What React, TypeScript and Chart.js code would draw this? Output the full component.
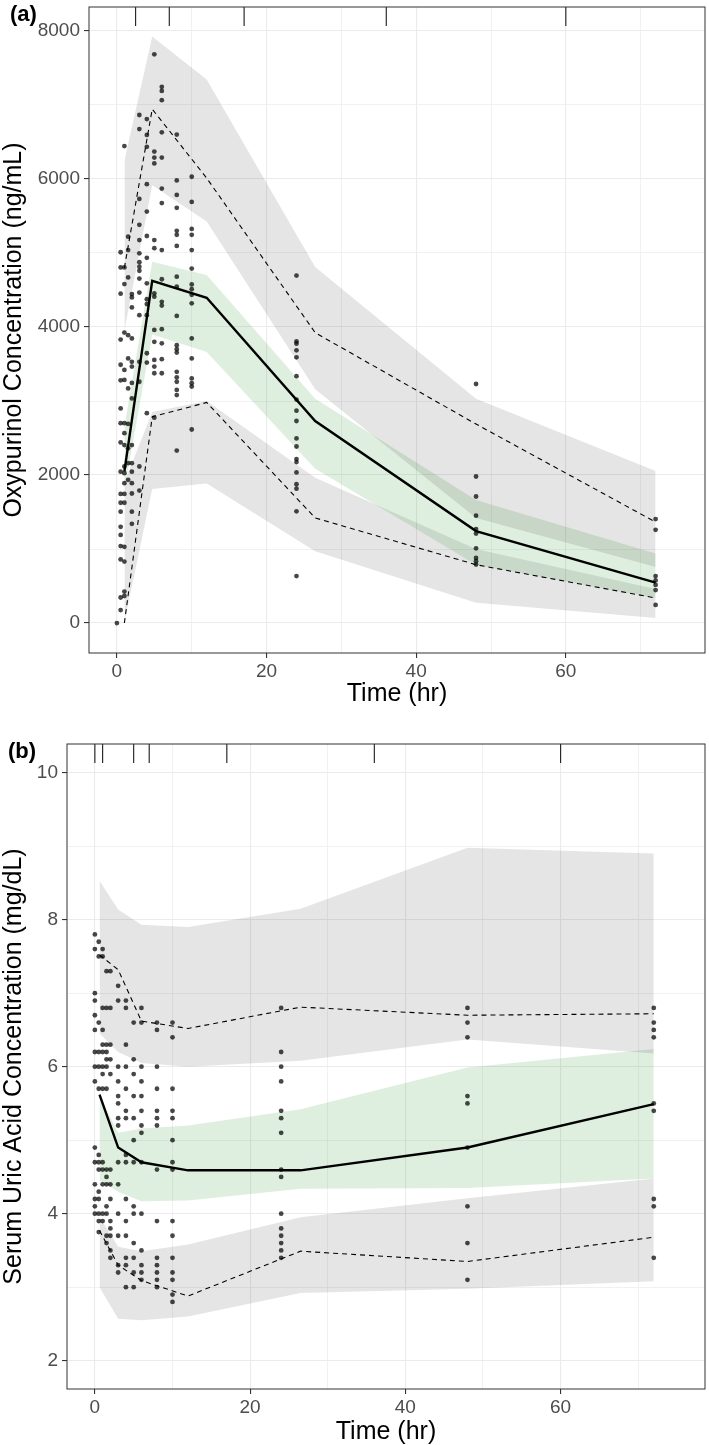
import React, { useEffect, useRef } from "react";
import { Chart, registerables } from "chart.js";
Chart.register(...registerables);

const FONT = "'Liberation Sans', Arial, Helvetica, sans-serif";

// ---------- shared axis ticks ----------
const xTicks = [0, 10, 20, 30, 40, 50, 60, 70];
const xLabelTicks = [0, 20, 40, 60];

// ---------- Panel (a): Oxypurinol ----------
const oxyYTicks = [0, 1000, 2000, 3000, 4000, 5000, 6000, 7000, 8000];
const oxyYLabelTicks = [0, 2000, 4000, 6000, 8000];
const oxyRug = [2.5, 7, 17, 36, 60];

const oxyBinTimes = [1.0, 4.72, 12, 26.5, 48, 72];
const oxyPI95Low = [3950, 5917, 5424, 3160, 1420, 757];
const oxyPI95High = [6250, 7924, 7345, 4810, 3030, 2054];
const oxyPI50Low = [1800, 3900, 3661, 2084, 788, 338];
const oxyPI50High = [2650, 4882, 4702, 3030, 1662, 938];
const oxyPI5Low = [10, 1810, 1885, 970, 274, 67];
const oxyPI5High = [1900, 2850, 3000, 1963, 1000, 459];
const oxyObsMedian = [2050, 4624, 4395, 2729, 1243, 546];
const oxyObs95 = [4800, 6944, 6012, 3923, 2688, 1364];
const oxyObs5 = [0, 2787, 2980, 1420, 788, 338];

const oxyObsTimes = [0, 0.5, 1, 1.5, 2, 3, 4, 5, 6, 8, 10, 24, 48, 72];
const oxyAt0 = [0];
const oxyAt0_5 = [5010, 4805, 4450, 3830, 3490, 3280, 2900, 2700, 2440, 2045, 1745, 1625, 1505, 1300, 1190, 1040, 860, 345, 175];
const oxyAt1 = [6445, 4805, 4580, 3925, 3420, 3285, 2700, 2565, 2405, 2115, 2025, 1890, 1745, 1625, 1030, 830, 425, 365];
const oxyAt1_5 = [5220, 5040, 4670, 3890, 3575, 3170, 2690, 2360, 2160, 1935];
const oxyAt2 = [4445, 4400, 4265, 3845, 3530, 3465, 3245, 3035, 2405, 2160, 2045, 1890, 1750, 1505, 1340];
const oxyAt3 = [6865, 6675, 5730, 5380, 5175, 4995, 4875, 4815, 4760, 4655, 4465, 4160, 3530, 3260, 2115, 1790];
const oxyAt4 = [6810, 6595, 6435, 5930, 5560, 5230, 4935, 4590, 4375, 4310, 4160, 3645, 3520, 2835];
const oxyAt5 = [7685, 6370, 6290, 6210, 5175, 5065, 4455, 4410, 3960, 3800, 3555, 3465, 3375, 2775];
const oxyAt6 = [7245, 7190, 7065, 6630, 6290, 5870, 5675, 5040, 4645, 4340, 4290, 3970, 3780, 3565, 3375];
const oxyAt8 = [6600, 5980, 5785, 5610, 5300, 5245, 5095, 4680, 4545, 4150, 3755, 3700, 3655, 3395, 3320, 3260, 3150, 3080, 2330];
const oxyAt10 = [6030, 5690, 5325, 5245, 5040, 4790, 4575, 4510, 4435, 4320, 3845, 3575, 3305, 3240, 3195, 2615];
const oxyAt24 = [4695, 3805, 3775, 3685, 3590, 3335, 3020, 2870, 2730, 2495, 2385, 2215, 2175, 2035, 1875, 1815, 1510, 635];
const oxyAt48 = [3230, 1980, 1710, 1450, 1270, 1210, 1010, 880, 835, 790];
const oxyAt72 = [1405, 1260, 635, 575, 515, 445, 245];
const oxyObsByTime = [oxyAt0, oxyAt0_5, oxyAt1, oxyAt1_5, oxyAt2, oxyAt3, oxyAt4, oxyAt5, oxyAt6, oxyAt8, oxyAt10, oxyAt24, oxyAt48, oxyAt72];

// ---------- Panel (b): Serum uric acid ----------
const uaYTicks = [2, 3, 4, 5, 6, 7, 8, 9, 10];
const uaYLabelTicks = [2, 4, 6, 8, 10];
const uaRug = [0, 1, 5, 7, 17, 36, 60];

const uaBinTimes = [0.6, 3, 6, 12, 26.5, 48, 72];
const uaPI95High = [8.53, 8.14, 7.93, 7.9, 8.15, 8.98, 8.9];
const uaPI95Low = [6.45, 6.2, 6.05, 6.0, 6.08, 6.37, 6.18];
const uaPI50High = [5.6, 5.1, 5.16, 5.2, 5.42, 5.99, 6.24];
const uaPI50Low = [4.45, 4.3, 4.17, 4.18, 4.34, 4.35, 4.48];
const uaPI5High = [3.96, 3.55, 3.49, 3.58, 3.95, 4.21, 4.48];
const uaPI5Low = [3.0, 2.57, 2.55, 2.6, 2.92, 2.98, 3.08];
const uaObsMedian = [5.62, 4.9, 4.7, 4.59, 4.59, 4.9, 5.49];
const uaObs95 = [7.52, 7.32, 6.62, 6.52, 6.81, 6.7, 6.72];
const uaObs5 = [3.77, 3.3, 3.09, 2.88, 3.49, 3.35, 3.68];

const uaObsTimes = [0, 0.5, 1, 1.5, 2, 3, 4, 5, 6, 8, 10, 24, 48, 72];
const uaAt0 = [7.8, 7.6, 7.0, 6.9, 6.7, 6.5, 6.2, 6.0, 5.8, 4.9, 4.7, 4.4, 4.2, 4.1, 4.0];
const uaAt0_5 = [7.7, 7.5, 6.6, 6.2, 6.0, 5.7, 4.8, 4.7, 4.6, 4.3, 4.2, 4.0, 3.9, 3.75];
const uaAt1 = [7.6, 7.5, 6.8, 6.5, 6.3, 6.2, 6.0, 5.9, 5.7, 4.7, 4.6, 4.4, 4.0, 3.9];
const uaAt1_5 = [7.3, 6.8, 6.3, 6.2, 6.1, 6.0, 5.7, 4.6, 4.5, 4.4, 4.1, 4.0, 3.7, 3.6];
const uaAt2 = [7.3, 6.8, 6.3, 6.1, 5.9, 4.6, 4.4, 4.2, 3.9, 3.8, 3.7, 3.5, 3.4];
const uaAt3 = [7.1, 6.9, 6.0, 5.8, 5.6, 5.5, 5.3, 5.2, 4.7, 4.4, 4.0, 3.7, 3.3, 3.2];
const uaAt4 = [6.9, 6.8, 6.3, 6.0, 5.7, 5.4, 5.3, 4.8, 4.7, 4.2, 3.9, 3.7, 3.4, 3.3, 3.0];
const uaAt5 = [6.6, 6.1, 5.9, 5.6, 5.3, 5.0, 4.7, 4.1, 4.0, 3.6, 3.4, 3.2, 3.0];
const uaAt6 = [6.8, 6.6, 6.0, 5.8, 5.6, 5.4, 5.2, 5.1, 4.7, 4.0, 3.5, 3.3, 3.2, 3.1];
const uaAt8 = [6.6, 6.5, 6.0, 5.7, 5.4, 5.3, 5.2, 4.6, 3.9, 3.4, 3.3, 3.2, 3.1, 3.0];
const uaAt10 = [6.6, 6.4, 5.7, 5.4, 5.3, 5.0, 4.7, 4.6, 3.9, 3.7, 3.4, 3.2, 3.1, 2.9, 2.8];
const uaAt24 = [6.8, 6.2, 6.0, 5.8, 5.4, 5.3, 5.1, 4.6, 4.5, 4.0, 3.8, 3.7, 3.6, 3.5, 3.4];
const uaAt48 = [6.8, 6.6, 6.4, 5.6, 5.5, 4.9, 4.1, 3.6, 3.1];
const uaAt72 = [6.8, 6.6, 6.5, 6.4, 5.5, 5.4, 4.2, 4.1, 3.4];
const uaObsByTime = [uaAt0, uaAt0_5, uaAt1, uaAt1_5, uaAt2, uaAt3, uaAt4, uaAt5, uaAt6, uaAt8, uaAt10, uaAt24, uaAt48, uaAt72];

// ---------- styling ----------
const GRAY_FILL = "rgba(0,0,0,0.1)";
const GREEN_FILL = "rgba(40,150,40,0.15)";
const POINT_COLOR = "rgba(0,0,0,0.72)";

const toXY = (xs: number[], ys: number[]) => xs.map((x, i) => ({ x, y: ys[i] }));

const decorPlugin = {
  id: "panelDecor",
  afterDatasetsDraw(chart: any, _args: any, opts: any) {
    const { ctx, chartArea } = chart;
    const { left, top, right, bottom } = chartArea;
    const xs = chart.scales.x;
    ctx.save();
    ctx.strokeStyle = "#1A1A1A";
    ctx.lineWidth = 1.1;
    for (const v of opts.rug) {
      const px = xs.getPixelForValue(v);
      ctx.beginPath();
      ctx.moveTo(px, top);
      ctx.lineTo(px, top + 19);
      ctx.stroke();
    }
    ctx.strokeStyle = "#333333";
    ctx.lineWidth = 1;
    ctx.strokeRect(left, top, right - left, bottom - top);
    ctx.fillStyle = "#000";
    ctx.font = `bold 22px ${FONT}`;
    ctx.textBaseline = "alphabetic";
    ctx.textAlign = "left";
    ctx.fillText(opts.tag, opts.tagX, opts.tagY);
    ctx.restore();
  },
};

function buildConfig(p: any): any {
  const points = p.obsTimes.flatMap((t: number, i: number) =>
    p.obsByTime[i].map((v: number) => ({ x: t, y: v }))
  );
  const band = (low: number[], high: number[], color: string) => [
    { data: toXY(p.binTimes, low), borderColor: "transparent", borderWidth: 0, pointRadius: 0, fill: false },
    { data: toXY(p.binTimes, high), borderColor: "transparent", borderWidth: 0, pointRadius: 0, fill: "-1", backgroundColor: color },
  ];
  const dashed = (vals: number[]) => ({
    data: toXY(p.binTimes, vals),
    borderColor: "#000",
    borderWidth: 1.1,
    borderDash: [5, 4],
    pointRadius: 0,
    fill: false,
  });
  const datasets = [
    { data: points, showLine: false, pointRadius: 2.4, pointBackgroundColor: POINT_COLOR, pointBorderWidth: 0, borderColor: "transparent", fill: false },
    { data: toXY(p.binTimes, p.obsMedian), borderColor: "#000", borderWidth: 2.4, pointRadius: 0, fill: false },
    dashed(p.obs95),
    dashed(p.obs5),
    ...band(p.pi95Low, p.pi95High, GRAY_FILL),
    ...band(p.pi50Low, p.pi50High, GREEN_FILL),
    ...band(p.pi5Low, p.pi5High, GRAY_FILL),
  ];
  const gridFor = (majors: number[]) => ({
    color: (c: any) => (majors.includes(c.tick?.value) ? "#EBEBEB" : "#EEEEEE"),
    lineWidth: (c: any) => (majors.includes(c.tick?.value) ? 1.1 : 0.8),
    tickColor: (c: any) => (majors.includes(c.tick?.value) ? "#333333" : "rgba(0,0,0,0)"),
    tickLength: 5,
    drawTicks: true,
    drawOnChartArea: true,
  });
  return {
    type: "line",
    data: { datasets },
    plugins: [decorPlugin],
    options: {
      animation: false,
      responsive: false,
      devicePixelRatio: 1,
      events: [],
      elements: { line: { tension: 0 } },
      layout: { padding: { left: 0, right: 1, top: p.padTop, bottom: 0 } },
      plugins: {
        legend: { display: false },
        tooltip: { enabled: false },
        title: { display: false },
        panelDecor: { rug: p.rug, tag: p.tag, tagX: p.tagX, tagY: p.tagY },
      },
      scales: {
        x: {
          type: "linear",
          min: p.xMin,
          max: p.xMax,
          afterBuildTicks: (s: any) => {
            s.ticks = xTicks.map((v) => ({ value: v }));
          },
          afterFit: (s: any) => {
            s.height = p.xAxisHeight;
            s.paddingLeft = 0;
            s.paddingRight = 0;
          },
          ticks: {
            autoSkip: false,
            maxRotation: 0,
            minRotation: 0,
            padding: 2,
            color: "#4D4D4D",
            font: { family: FONT, size: 19 },
            callback: (v: any) => (xLabelTicks.includes(Number(v)) ? String(v) : ""),
          },
          grid: gridFor(xLabelTicks),
          border: { display: false },
          title: {
            display: true,
            text: "Time (hr)",
            color: "#000",
            font: { family: FONT, size: 25, lineHeight: 1 },
            padding: { top: 0, bottom: p.xTitlePad },
          },
        },
        y: {
          type: "linear",
          min: p.yMin,
          max: p.yMax,
          afterBuildTicks: (s: any) => {
            s.ticks = p.yTicks.map((v: number) => ({ value: v }));
          },
          afterFit: (s: any) => {
            s.width = p.yAxisWidth;
            s.paddingTop = 0;
            s.paddingBottom = 0;
          },
          ticks: {
            autoSkip: false,
            padding: 4,
            color: "#4D4D4D",
            font: { family: FONT, size: 19 },
            callback: (v: any) => (p.yLabelTicks.includes(Number(v)) ? String(v) : ""),
          },
          grid: gridFor(p.yLabelTicks),
          border: { display: false },
          title: {
            display: true,
            text: p.yTitle,
            color: "#000",
            font: { family: FONT, size: 25, lineHeight: 1 },
            padding: { top: 1.5, bottom: 0 },
          },
        },
      },
    },
  };
}

const panelA = {
  binTimes: oxyBinTimes,
  pi95Low: oxyPI95Low,
  pi95High: oxyPI95High,
  pi50Low: oxyPI50Low,
  pi50High: oxyPI50High,
  pi5Low: oxyPI5Low,
  pi5High: oxyPI5High,
  obsMedian: oxyObsMedian,
  obs95: oxyObs95,
  obs5: oxyObs5,
  obsTimes: oxyObsTimes,
  obsByTime: oxyObsByTime,
  yTicks: oxyYTicks,
  yLabelTicks: oxyYLabelTicks,
  rug: oxyRug,
  yTitle: "Oxypurinol Concentration (ng/mL)",
  tag: "(a)",
  tagX: 10,
  tagY: 21,
  xMin: -3.73,
  xMax: 78.6,
  yMin: -405,
  yMax: 8324,
  padTop: 7,
  yAxisWidth: 89,
  xAxisHeight: 67,
  xTitlePad: 13.5,
};

const panelB = {
  binTimes: uaBinTimes,
  pi95Low: uaPI95Low,
  pi95High: uaPI95High,
  pi50Low: uaPI50Low,
  pi50High: uaPI50High,
  pi5Low: uaPI5Low,
  pi5High: uaPI5High,
  obsMedian: uaObsMedian,
  obs95: uaObs95,
  obs5: uaObs5,
  obsTimes: uaObsTimes,
  obsByTime: uaObsByTime,
  yTicks: uaYTicks,
  yLabelTicks: uaYLabelTicks,
  rug: uaRug,
  yTitle: "Serum Uric Acid Concentration (mg/dL)",
  tag: "(b)",
  tagX: 8,
  tagY: 38,
  xMin: -3.59,
  xMax: 78.6,
  yMin: 1.615,
  yMax: 10.39,
  padTop: 24,
  yAxisWidth: 67,
  xAxisHeight: 56,
  xTitlePad: 0.5,
};

export default function App() {
  const refA = useRef<HTMLCanvasElement>(null);
  const refB = useRef<HTMLCanvasElement>(null);
  useEffect(() => {
    const a = new Chart(refA.current as HTMLCanvasElement, buildConfig(panelA));
    const b = new Chart(refB.current as HTMLCanvasElement, buildConfig(panelB));
    return () => {
      a.destroy();
      b.destroy();
    };
  }, []);
  return (
    <div style={{ position: "absolute", left: 0, top: 0, width: 709, height: 1445, background: "#fff" }}>
      <canvas
        ref={refA}
        width={709}
        height={720}
        style={{ position: "absolute", left: 0, top: 0, width: 709, height: 720 }}
      />
      <canvas
        ref={refB}
        width={709}
        height={725}
        style={{ position: "absolute", left: 0, top: 720, width: 709, height: 725 }}
      />
    </div>
  );
}
